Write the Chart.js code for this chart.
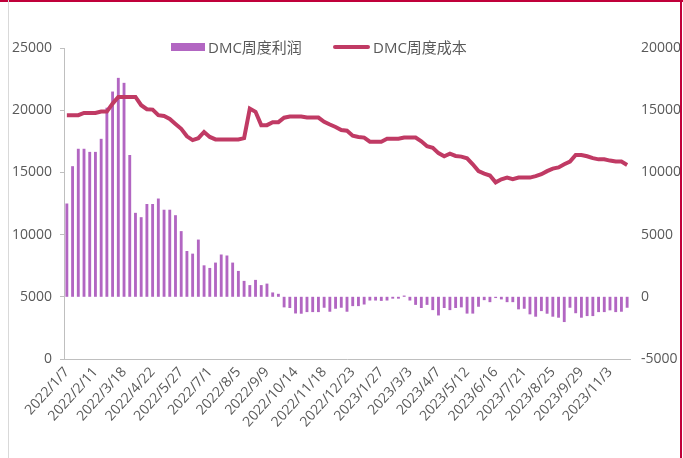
<!DOCTYPE html>
<html>
<head>
<meta charset="utf-8">
<script src="https://cdn.jsdelivr.net/npm/chart.js@4/dist/chart.umd.min.js"></script>
<style>
  html, body { margin: 0; padding: 0; background: #fff; }
  #wrap { position: relative; width: 683px; height: 458px; overflow: hidden; }
  #chart { position: absolute; left: 0; top: 0; }
  .legend { position: absolute; top: 37px; font: 15px 'Open Sans', 'Noto Sans CJK SC', sans-serif; color: #595959; line-height: 20px; white-space: nowrap; }
  .swatch { position: absolute; }
  .frame { position: absolute; }
</style>
</head>
<body>
<div id="wrap">
  <canvas id="chart" width="683" height="458"></canvas>
  <div class="swatch" style="left:171px;top:43px;width:34px;height:8px;background:#b266c2;"></div>
  <div class="legend" style="left:208px;">DMC周度利润</div>
  <div class="swatch" style="left:333px;top:45px;width:37px;height:4px;border-radius:2px;background:#c03a64;"></div>
  <div class="legend" style="left:373px;">DMC周度成本</div>
  <div class="frame" style="left:0;top:0;width:683px;height:2px;background:#c0003a;"></div>
  <div class="frame" style="left:680px;top:0;width:2px;height:458px;background:#c0003a;"></div>
  <div class="frame" style="left:8px;top:0;width:1px;height:458px;background:#d9d9d9;"></div>
</div>
<script>
// Weekly dates (every 5th shown on the axis)
const weeks = [
  '2022/1/7', '2022/1/14', '2022/1/21', '2022/1/28', '2022/2/4', '2022/2/11', '2022/2/18', '2022/2/25',
  '2022/3/4', '2022/3/11', '2022/3/18', '2022/3/25', '2022/4/1', '2022/4/8', '2022/4/15', '2022/4/22',
  '2022/4/29', '2022/5/6', '2022/5/13', '2022/5/20', '2022/5/27', '2022/6/3', '2022/6/10', '2022/6/17',
  '2022/6/24', '2022/7/1', '2022/7/8', '2022/7/15', '2022/7/22', '2022/7/29', '2022/8/5', '2022/8/12',
  '2022/8/19', '2022/8/26', '2022/9/2', '2022/9/9', '2022/9/16', '2022/9/23', '2022/9/30', '2022/10/7',
  '2022/10/14', '2022/10/21', '2022/10/28', '2022/11/4', '2022/11/11', '2022/11/18', '2022/11/25', '2022/12/2',
  '2022/12/9', '2022/12/16', '2022/12/23', '2022/12/30', '2023/1/6', '2023/1/13', '2023/1/20', '2023/1/27',
  '2023/2/3', '2023/2/10', '2023/2/17', '2023/2/24', '2023/3/3', '2023/3/10', '2023/3/17', '2023/3/24',
  '2023/3/31', '2023/4/7', '2023/4/14', '2023/4/21', '2023/4/28', '2023/5/5', '2023/5/12', '2023/5/19',
  '2023/5/26', '2023/6/2', '2023/6/9', '2023/6/16', '2023/6/23', '2023/6/30', '2023/7/7', '2023/7/14',
  '2023/7/21', '2023/7/28', '2023/8/4', '2023/8/11', '2023/8/18', '2023/8/25', '2023/9/1', '2023/9/8',
  '2023/9/15', '2023/9/22', '2023/9/29', '2023/10/6', '2023/10/13', '2023/10/20', '2023/10/27', '2023/11/3',
  '2023/11/10', '2023/11/17', '2023/11/24'
];

// DMC weekly profit (bars)
const profit = [
  7500, 10500, 11900, 11900, 11650, 11650, 12700, 15200, 16500, 17600,
  17200, 11400, 6750, 6400, 7460, 7460, 7900, 7000, 7000, 6560,
  5280, 3680, 3470, 4600, 2530, 2320, 2750, 3400, 3320, 2750,
  2080, 1280, 940, 1360, 940, 1060, 350, 240, -850, -900,
  -1340, -1360, -1230, -1230, -1230, -880, -1200, -960, -880, -1200,
  -750, -750, -620, -300, -300, -330, -300, -150, -150, 100,
  -300, -650, -900, -650, -1070, -1500, -900, -1070, -900, -850,
  -1350, -1350, -800, -270, -430, -100, -210, -430, -430, -1010,
  -960, -1410, -1600, -1150, -1360, -1600, -1680, -2030, -880, -1320,
  -1680, -1550, -1550, -1230, -1230, -1090, -1230, -1200, -880
];

// DMC weekly cost (line)
const cost = [
  14600, 14600, 14600, 14780, 14780, 14780, 14890, 14890, 15530, 16070,
  16070, 16070, 16070, 15400, 15080, 15050, 14600, 14530, 14300, 13900,
  13500, 12900, 12600, 12750, 13250, 12850, 12650, 12650, 12650, 12650,
  12650, 12750, 15130, 14870, 13800, 13800, 14040, 14040, 14400, 14490,
  14490, 14490, 14410, 14410, 14410, 14070, 13850, 13650, 13400, 13350,
  12950, 12850, 12800, 12470, 12470, 12470, 12700, 12700, 12700, 12800,
  12800, 12800, 12500, 12100, 11980, 11550, 11300, 11500, 11320, 11270,
  11130, 10650, 10100, 9900, 9750, 9200, 9450, 9580, 9450, 9580,
  9580, 9580, 9700, 9850, 10100, 10300, 10400, 10650, 10870, 11400,
  11400, 11300, 11150, 11050, 11050, 10950, 10870, 10870, 10600
];

const leftTicks = [0, 5000, 10000, 15000, 20000, 25000];
const rightTicks = [-5000, 0, 5000, 10000, 15000, 20000];

const TEXT = '#595959';
const FONT = "'Open Sans', 'Noto Sans CJK SC', sans-serif";

new Chart(document.getElementById('chart'), {
  data: {
    labels: weeks,
    datasets: [
      {
        type: 'line',
        label: 'DMC周度成本',
        data: cost,
        yAxisID: 'y1',
        borderColor: '#c03a64',
        borderWidth: 4,
        pointRadius: 0,
        tension: 0,
        order: 0,
      },
      {
        type: 'bar',
        label: 'DMC周度利润',
        data: profit,
        yAxisID: 'y1',
        backgroundColor: '#b266c2',
        categoryPercentage: 1,
        barPercentage: 0.5,
        order: 1,
      },
    ],
  },
  options: {
    responsive: false,
    animation: false,
    layout: { padding: { top: 48, left: 0, right: 0, bottom: 0 } },
    plugins: {
      legend: { display: false },
      tooltip: { enabled: false },
    },
    scales: {
      x: {
        offset: true,
        grid: { display: false, drawTicks: false },
        border: { display: true, color: '#bfbfbf', width: 1 },
        afterFit: (s) => { s.height = 99; },
        ticks: {
          autoSkip: false,
          minRotation: 48,
          maxRotation: 48,
          padding: 5,
          color: TEXT,
          font: { family: FONT, size: 14 },
          callback: function (v, i) { return i % 5 === 0 ? weeks[i] : ''; },
        },
      },
      y: {
        position: 'left',
        min: 0,
        max: 25000,
        afterBuildTicks: (s) => { s.ticks = leftTicks.map(v => ({ value: v })); },
        afterFit: (s) => { s.width = 64; },
        grid: { drawOnChartArea: false, drawTicks: true, tickLength: 4, color: '#bfbfbf' },
        border: { display: true, color: '#bfbfbf', width: 1 },
        ticks: {
          padding: 8,
          color: TEXT,
          font: { family: FONT, size: 14 },
          callback: (v) => String(v),
        },
      },
      y1: {
        position: 'right',
        min: -5000,
        max: 20000,
        afterBuildTicks: (s) => { s.ticks = rightTicks.map(v => ({ value: v })); },
        afterFit: (s) => { s.width = 53; },
        grid: { display: false, drawTicks: false },
        border: { display: false },
        ticks: {
          padding: 11,
          color: TEXT,
          font: { family: FONT, size: 14 },
          callback: (v) => String(v),
        },
      },
    },
  },
});
</script>
</body>
</html>
